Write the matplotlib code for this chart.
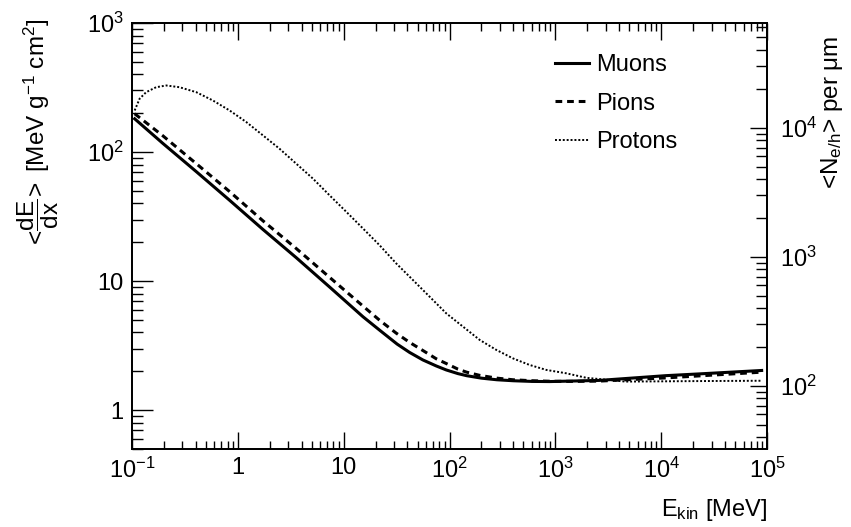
import matplotlib
matplotlib.use('Agg')
import matplotlib.pyplot as plt
from matplotlib.ticker import FixedLocator, FixedFormatter, LogLocator, NullFormatter

plt.rcParams['font.family'] = ['Liberation Sans', 'DejaVu Sans']
plt.rcParams['mathtext.fontset'] = 'custom'
plt.rcParams['mathtext.rm'] = 'Liberation Sans'
plt.rcParams['mathtext.it'] = 'Liberation Sans:italic'
plt.rcParams['mathtext.bf'] = 'Liberation Sans:bold'
plt.rcParams['mathtext.default'] = 'regular'

# mean energy loss in silicon vs kinetic energy
# E_kin [MeV], <dE/dx> [MeV g^-1 cm^2]
e_muon = [0.106, 0.195, 0.405, 0.836, 1.72, 3.56, 7.36, 15.2, 22.0, 32.0,
          42.0, 56.0, 75.0, 93.0, 120, 145, 200, 280, 400, 600, 880,
          2600, 11000, 23000, 89000]
dedx_muon = [181, 117, 70.5, 42.3, 25.2, 15.2, 9.0, 5.3, 4.15, 3.25,
             2.8, 2.45, 2.2, 2.05, 1.92, 1.85, 1.77, 1.72, 1.69, 1.67, 1.665,
             1.70, 1.85, 1.91, 2.03]

e_pion = [0.106, 0.195, 0.405, 0.836, 1.72, 3.56, 7.36, 15.2, 22.0, 31.4,
          42.0, 56.0, 75.0, 93.0, 120, 145, 193, 280, 397, 600, 883,
          1500, 2620, 11300, 89000]
dedx_pion = [198, 134, 81.3, 49.4, 29.4, 17.9, 10.7, 6.41, 4.95, 3.95,
             3.35, 2.9, 2.5, 2.3, 2.08, 1.97, 1.86, 1.77, 1.72, 1.69, 1.675,
             1.67, 1.68, 1.78, 1.97]

e_proton = [0.106, 0.118, 0.136, 0.169, 0.211, 0.281, 0.405, 0.581, 0.836,
            1.20, 1.72, 2.48, 3.56, 5.12, 7.36, 10.6, 15.2, 21.8, 31.4, 45.1,
            64.9, 93.3, 134, 193, 277, 397, 571, 822, 1270, 1970, 4600,
            23000, 89000]
dedx_proton = [210, 259, 291, 318, 328, 318, 291, 251, 210,
               171, 135, 106, 81.3, 62.3, 46.2, 34.4, 25.6, 19.0, 13.7, 10.2,
               7.57, 5.62, 4.44, 3.50, 2.93, 2.52, 2.24, 2.05, 1.93, 1.78, 1.665,
               1.68, 1.69]

# e/h pairs per um: density 2.33 g/cm^3, 3.6 eV per pair
EH_PER_UM = 2.33 * 1e-4 / 3.6e-6

YMIN, YMAX = 0.5, 1000.0
FS = 17

fig = plt.figure(figsize=(8.51, 5.27), dpi=100)
ax = fig.add_axes([132 / 851, 1 - 449 / 527, (767 - 132) / 851, (449 - 23) / 527])

ax.plot(e_muon, dedx_muon, color='black', lw=2.2, ls='-', label='Muons')
ax.plot(e_pion, dedx_pion, color='black', lw=2.2, ls=(0, (2.2, 1.6)), label='Pions')
ax.plot(e_proton, dedx_proton, color='black', lw=1.4, ls=(0, (1, 1)), label='Protons')

ax.set_xscale('log')
ax.set_yscale('log')
ax.set_xlim(0.1, 1e5)
ax.set_ylim(YMIN, YMAX)

ax.xaxis.set_major_locator(FixedLocator([0.1, 1, 10, 100, 1e3, 1e4, 1e5]))
ax.xaxis.set_major_formatter(FixedFormatter(
    [r'$10^{-1}$', '1', '10', r'$10^{2}$', r'$10^{3}$', r'$10^{4}$', r'$10^{5}$']))
ax.xaxis.set_minor_locator(LogLocator(base=10, subs=range(2, 10), numticks=20))
ax.xaxis.set_minor_formatter(NullFormatter())

ax.yaxis.set_major_locator(FixedLocator([1, 10, 100, 1000]))
ax.yaxis.set_major_formatter(FixedFormatter(['1', '10', r'$10^{2}$', r'$10^{3}$']))
ax.yaxis.set_minor_locator(LogLocator(base=10, subs=range(2, 10), numticks=20))
ax.yaxis.set_minor_formatter(NullFormatter())

ax.tick_params(axis='x', which='both', direction='in', top=True, bottom=True,
               labelsize=FS, pad=6)
ax.tick_params(axis='x', which='major', length=12, width=1)
ax.tick_params(axis='x', which='minor', length=6, width=1)
ax.tick_params(axis='y', which='both', direction='in', left=True, right=False,
               labelsize=FS, pad=6)
ax.tick_params(axis='y', which='major', length=15, width=1)
ax.tick_params(axis='y', which='minor', length=8, width=1)
for s in ax.spines.values():
    s.set_linewidth(1.3)

# secondary scale: e/h pairs per micron
ax2 = ax.twinx()
ax2.set_yscale('log')
ax2.set_ylim(YMIN * EH_PER_UM, YMAX * EH_PER_UM)
ax2.yaxis.set_major_locator(FixedLocator([1e2, 1e3, 1e4]))
ax2.yaxis.set_major_formatter(FixedFormatter([r'$10^{2}$', r'$10^{3}$', r'$10^{4}$']))
ax2.yaxis.set_minor_locator(LogLocator(base=10, subs=range(2, 10), numticks=20))
ax2.yaxis.set_minor_formatter(NullFormatter())
ax2.tick_params(axis='y', which='both', direction='in', right=True, left=False,
                labelsize=FS, pad=9)
ax2.tick_params(axis='y', which='major', length=12, width=1)
ax2.tick_params(axis='y', which='minor', length=8, width=1)
for s in ax2.spines.values():
    s.set_linewidth(1.3)

leg = ax.legend(loc='upper left', bbox_to_anchor=(555 / 851, 1 - 54 / 527),
                bbox_transform=fig.transFigure, frameon=False, fontsize=FS,
                handlelength=1.45, handletextpad=0.3, labelspacing=0.7,
                borderpad=0, borderaxespad=0)

fig.text(38 / 851, 1 - 18 / 527,
         r'$<\!\dfrac{dE}{dx}\!>$ [MeV g$^{-1}$ cm$^{2}$]',
         rotation=90, ha='center', va='top', fontsize=17.5)
fig.text(832 / 851, 1 - 36 / 527, r'<N$_{e/h}$> per μm',
         rotation=90, ha='center', va='top', fontsize=17.5)
fig.text(767 / 851, 1 - 510 / 527, r'E$_{kin}$ [MeV]',
         ha='right', va='center', fontsize=FS)

fig.savefig('out.png', dpi=100)
